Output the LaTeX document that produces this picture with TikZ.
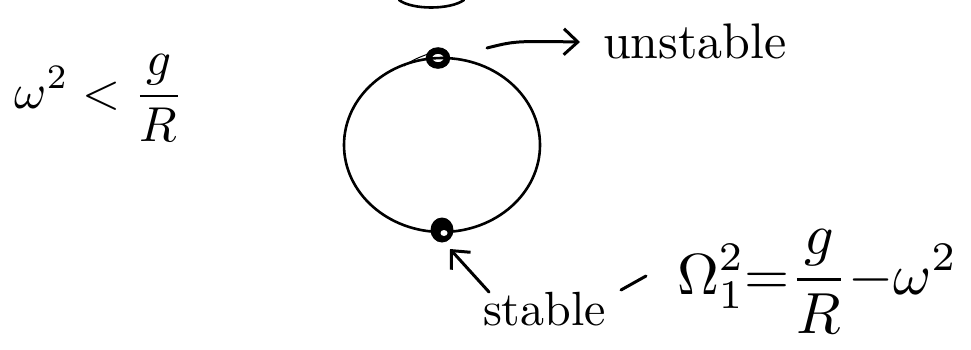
\documentclass[tikz,border=0pt]{standalone}
\usetikzlibrary{arrows.meta}
\begin{document}
\begin{tikzpicture}[x=1pt,y=-1pt,
  pen/.style={line width=2.6pt, line cap=round, line join=round},
  ink/.style={line width=3pt, line cap=round, line join=round},
  lbl/.style={inner sep=0pt, outer sep=0pt},
  barb/.style={-{Straight Barb[length=14pt,width=26pt,line width=3pt]}},
]
\useasboundingbox (0,0) rectangle (971,349);
% partial circle at the top edge
\draw[pen] (399,0) .. controls (412,10) and (450,10) .. (464,0);
% main circle
\draw[pen] (442,145) ellipse [x radius=98, y radius=87];
% points on the circle
\coordinate (top) at (438,58);
\coordinate (bot) at (442,230);
\draw[line width=6.5pt] (top) ellipse [x radius=9, y radius=7.5];
\draw[line width=1pt] (404,66) .. controls (412,60) and (420,57) .. (428,54);
\fill (bot) ellipse [x radius=11.5, y radius=12.5];
\fill[white] (444,233) ellipse [x radius=3.5, y radius=3];
% labels
\node[lbl, anchor=base west, scale=5] (uns) at (603,58) {unstable};
\node[lbl, anchor=base west, scale=4.8] (sta) at (483,325) {stable};
\node[lbl, scale=4.9] (cond) at (99,98) {$\displaystyle\omega^2<\frac{g}{R}$};
\node[lbl, anchor=base west, scale=5.8] (freq) at (677,294) {$\displaystyle\Omega_1^2{=}\frac{g}{R}{-}\omega^2$};
% arrows
\coordinate (a1s) at (487,48);
\coordinate (a1e) at (580,42);
\draw[ink, barb] (a1s) .. controls (515,41) .. (a1e);
\coordinate (a2s) at (489,292);
\coordinate (a2e) at (450,249);
\draw[ink, barb] (a2s) -- (a2e);
% small stroke between label and formula
\coordinate (t1) at (621,290);
\coordinate (t2) at (646,276);
\draw[ink] (t1) -- (t2);
\end{tikzpicture}
\end{document}
